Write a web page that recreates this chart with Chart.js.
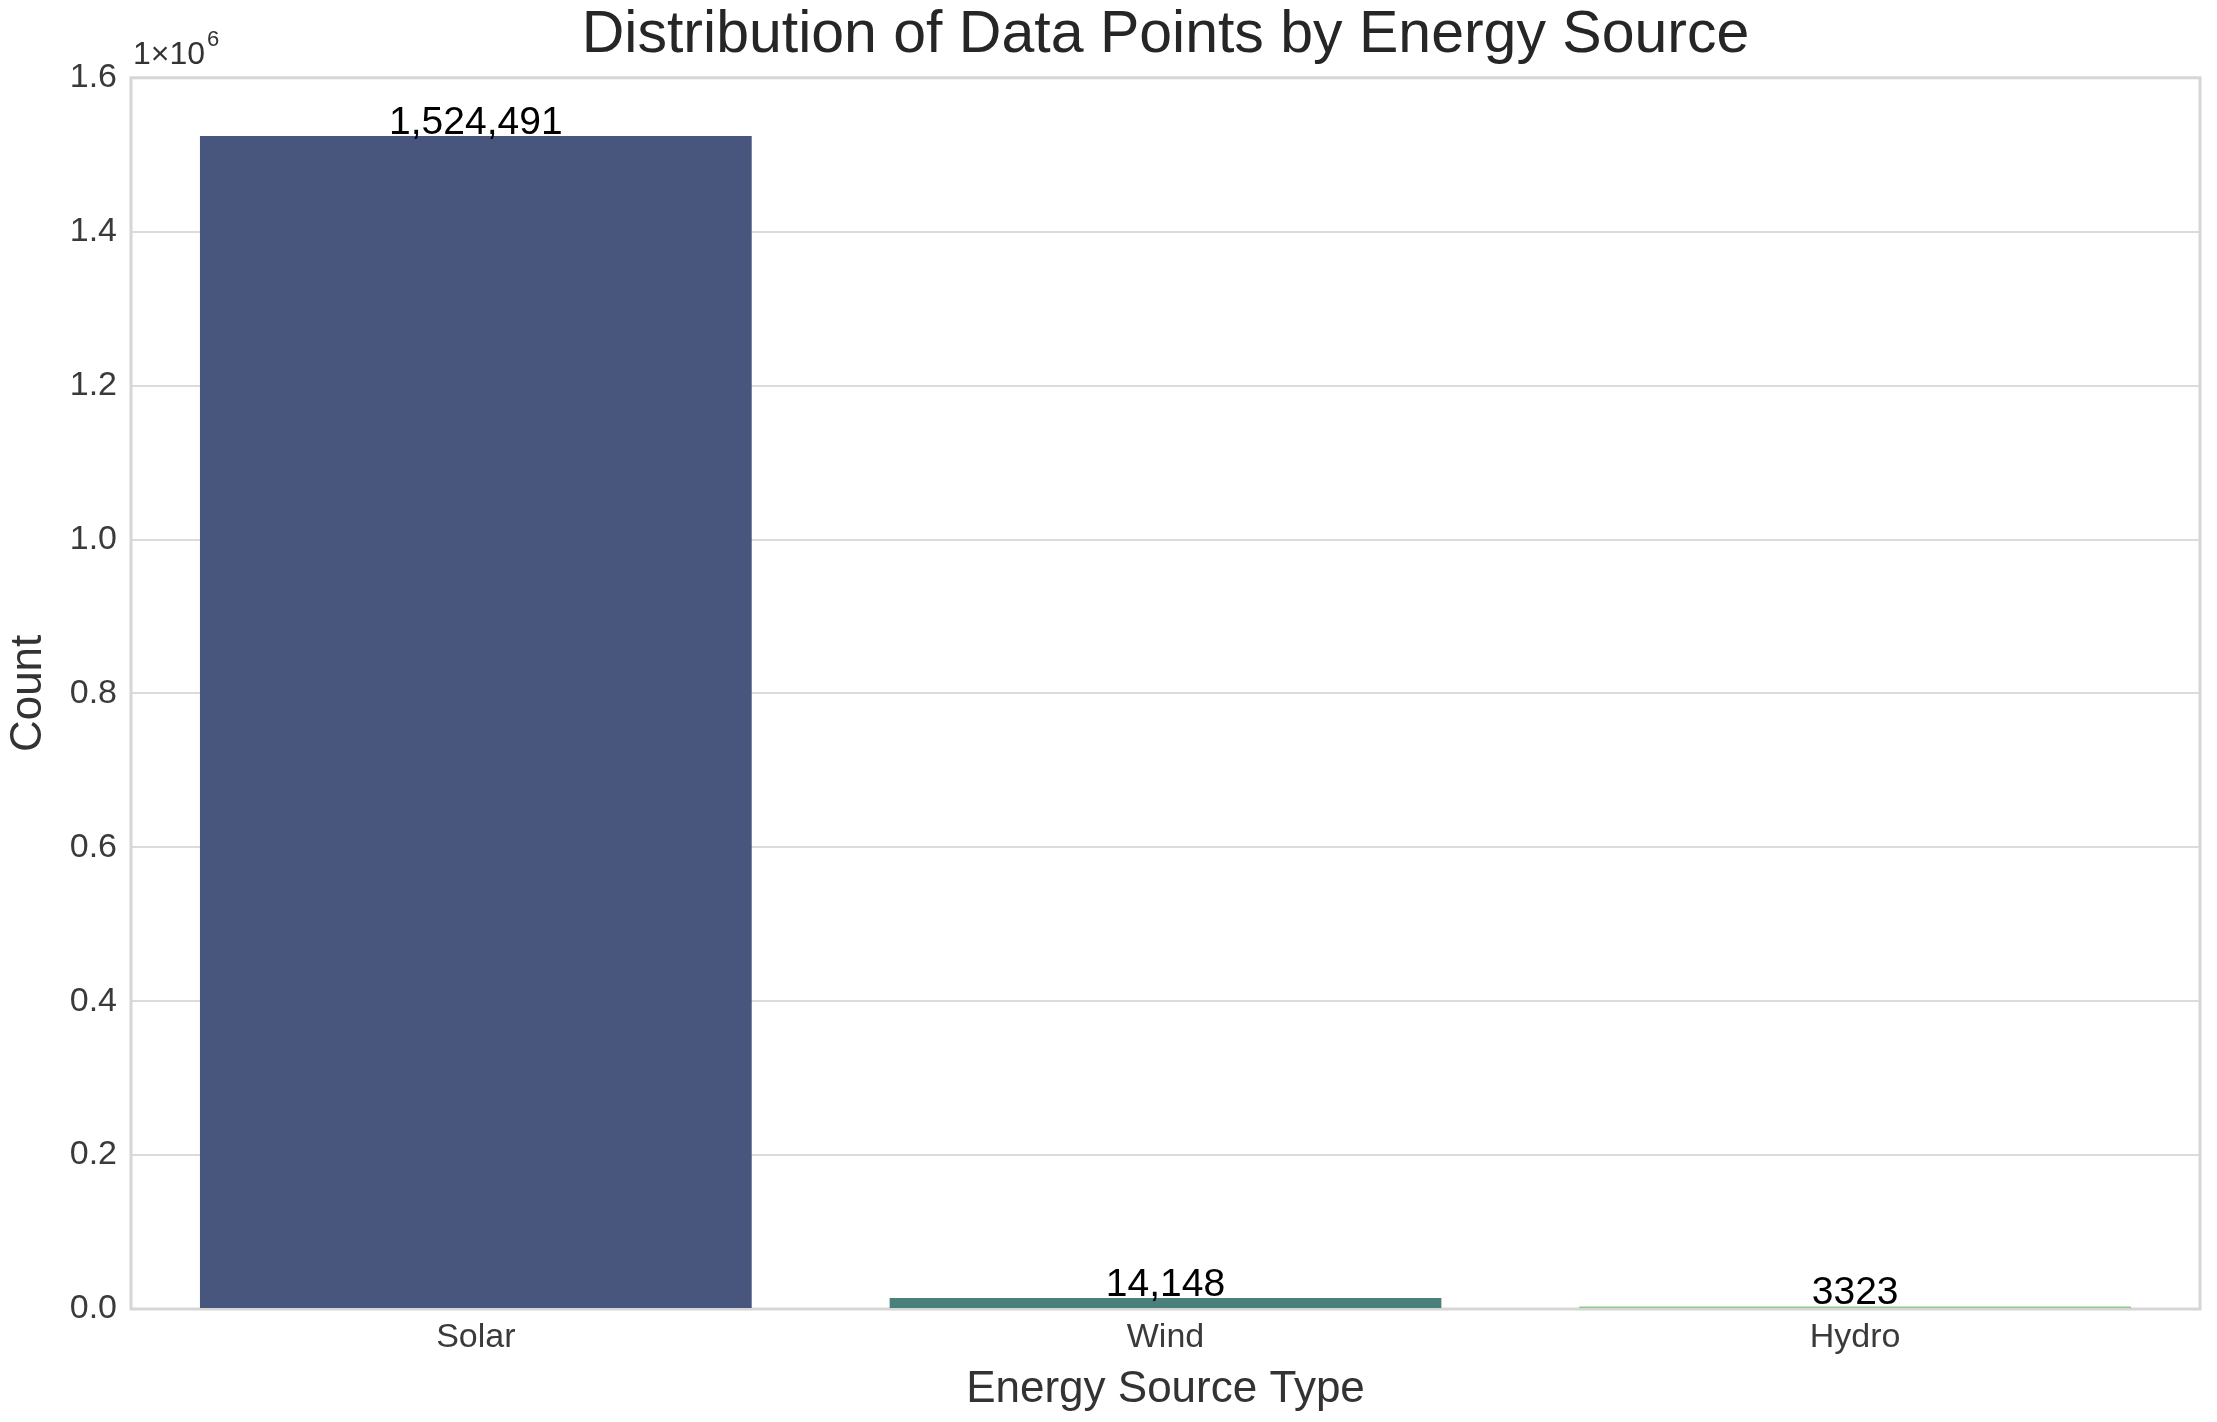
<!DOCTYPE html>
<html>
<head>
<meta charset="utf-8">
<script src="https://cdn.jsdelivr.net/npm/chart.js@4.4.1/dist/chart.umd.min.js"></script>
<style>
  html, body { margin: 0; padding: 0; background: #fff; }
  #wrap { width: 2217px; height: 1422px; position: relative; }
</style>
</head>
<body>
<div id="wrap"><canvas id="chart"></canvas></div>
<script>
var sources = ["Solar", "Wind", "Hydro"];
var counts = [1524491, 14148, 3323];
var countLabels = ["1,524,491", "14,148", "3323"];
var barColors = ["#48557c", "#4a807a", "#8ecb88"];
var yTicks = [0, 0.2, 0.4, 0.6, 0.8, 1.0, 1.2, 1.4, 1.6];

var FONT = "'Liberation Sans', Arial, sans-serif";

// frame round the plot area, offset text and value labels
var extras = {
    id: "extras",
    beforeDatasetsDraw: function (chart) {
        var a = chart.chartArea, ctx = chart.ctx;
        ctx.save();
        ctx.strokeStyle = "#d6d6d6";
        ctx.lineWidth = 3;
        ctx.strokeRect(a.left, a.top, a.right - a.left, a.bottom - a.top);
        ctx.restore();
    },
    afterDatasetsDraw: function (chart) {
        var ctx = chart.ctx, a = chart.chartArea;
        ctx.save();
        ctx.fillStyle = "#000";
        ctx.font = "39px " + FONT;
        ctx.textAlign = "center";
        ctx.textBaseline = "alphabetic";
        chart.getDatasetMeta(0).data.forEach(function (bar, i) {
            ctx.fillText(countLabels[i], bar.x, bar.y - 2);
        });
        // 1x10^6 offset text
        ctx.fillStyle = "#333";
        ctx.textAlign = "left";
        ctx.font = "32px " + FONT;
        ctx.fillText("1\u00d710", a.left + 2, a.top - 14);
        var w = ctx.measureText("1\u00d710").width;
        ctx.font = "22px " + FONT;
        ctx.fillText("6", a.left + 4 + w, a.top - 32);
        ctx.restore();
    }
};

new Chart(document.getElementById("chart"), {
    type: "bar",
    data: {
        labels: sources,
        datasets: [{
            data: counts,
            backgroundColor: barColors,
            borderWidth: 0,
            categoryPercentage: 0.8,
            barPercentage: 1.0
        }]
    },
    options: {
        responsive: true,
        maintainAspectRatio: false,
        animation: false,
        layout: { padding: { left: 0, right: 17, top: 0, bottom: 0 } },
        plugins: {
            legend: { display: false },
            tooltip: { enabled: false },
            title: {
                display: true,
                fullSize: false,
                text: "Distribution of Data Points by Energy Source",
                color: "#262626",
                font: { family: FONT, size: 59, weight: "normal", lineHeight: 1.2 },
                padding: { top: 0, bottom: 7 }
            }
        },
        scales: {
            x: {
                grid: { display: false, drawTicks: false },
                border: { display: false },
                ticks: { color: "#3a3a3a", font: { family: FONT, size: 34 }, padding: 8 },
                title: {
                    display: true,
                    text: "Energy Source Type",
                    color: "#333",
                    font: { family: FONT, size: 44 },
                    padding: { top: 0, bottom: 6 }
                },
                afterFit: function (s) { s.height = 113; }
            },
            y: {
                min: 0,
                max: 1600000,
                afterBuildTicks: function (s) {
                    s.ticks = yTicks.map(function (v) { return { value: v * 1e6 }; });
                },
                grid: { color: "#dcdcdc", lineWidth: 2, drawTicks: false },
                border: { display: false },
                ticks: {
                    color: "#3a3a3a",
                    font: { family: FONT, size: 34 },
                    padding: 14,
                    callback: function (v) { return (v / 1e6).toFixed(1); }
                },
                title: {
                    display: true,
                    text: "Count",
                    color: "#333",
                    font: { family: FONT, size: 44 },
                    padding: { top: 2, bottom: 0 }
                },
                afterFit: function (s) { s.width = 131; }
            }
        }
    },
    plugins: [extras]
});
</script>
</body>
</html>
